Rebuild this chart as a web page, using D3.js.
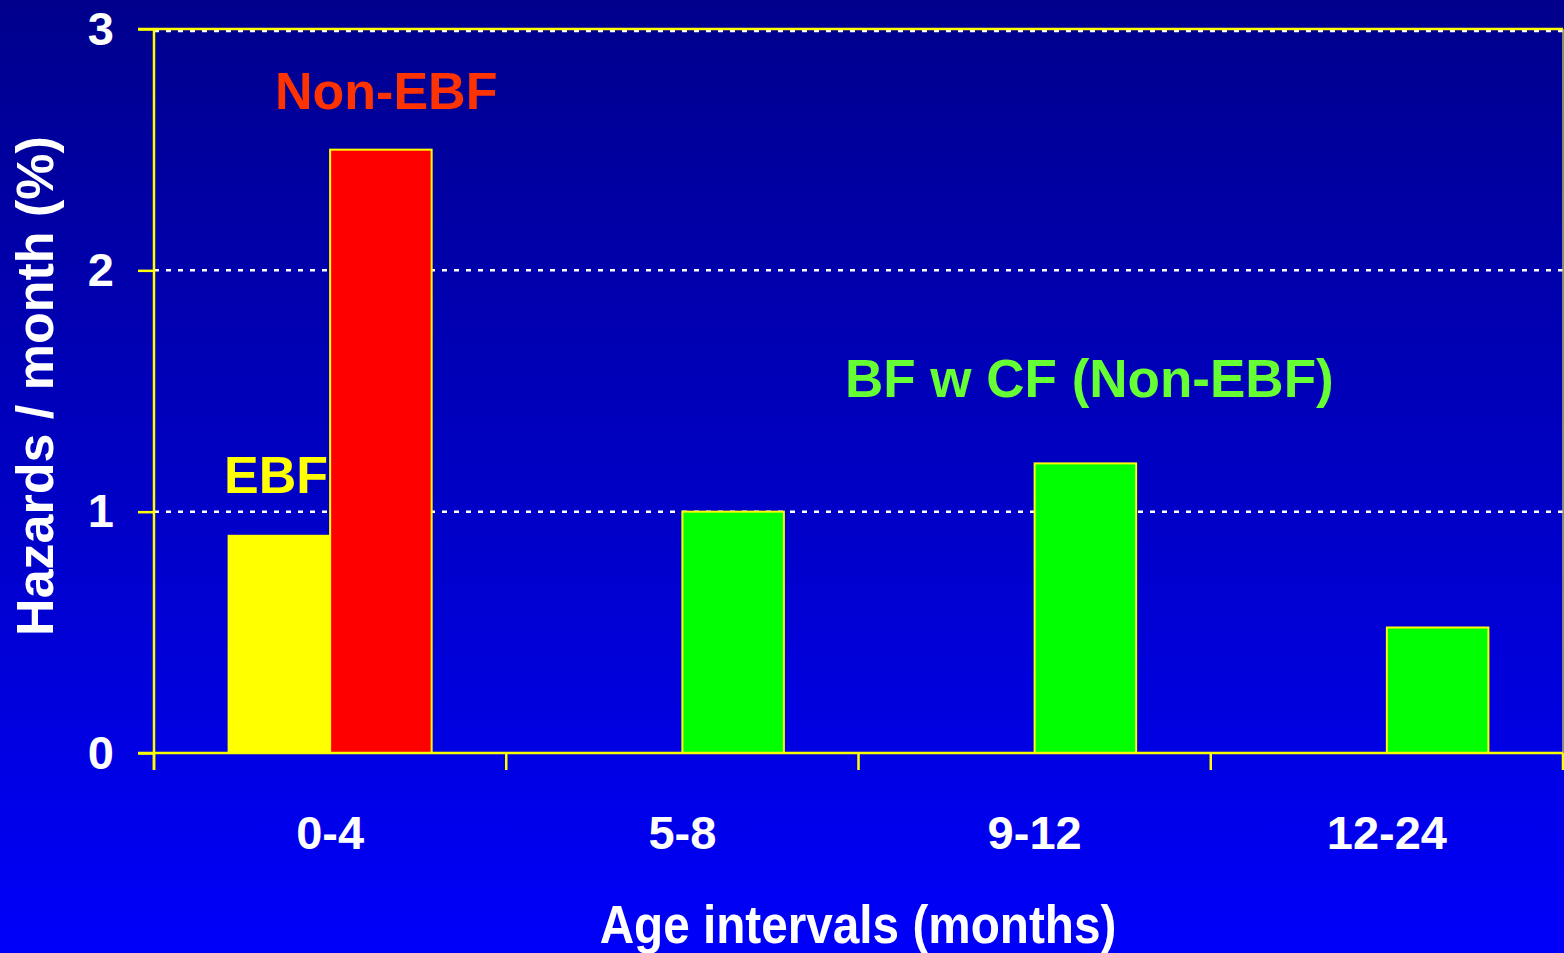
<!DOCTYPE html>
<html>
<head>
<meta charset="utf-8">
<script src="https://cdn.jsdelivr.net/npm/d3@7/dist/d3.min.js"></script>
<style>
  html, body { margin: 0; padding: 0; background: #0000f0; overflow: hidden; }
  svg { display: block; }
  text { font-family: "Liberation Sans", Arial, sans-serif; font-weight: bold; }
</style>
</head>
<body>
<svg id="chart" width="1564" height="953"></svg>
<script>
// Age intervals (months)
const categories = ["0-4", "5-8", "9-12", "12-24"];
// Hazards per month (%), exclusive breastfeeding
const ebfValues = [0.9, null, null, null];
// Hazards per month (%), non-exclusive breastfeeding
const nonEbfValues = [2.5, 1.0, 1.2, 0.52];
const seriesKeys = ["EBF", "Non-EBF"];
const yTicks = [0, 1, 2, 3];

const W = 1564, H = 953;
const margin = { left: 154, right: 1, top: 29, bottom: 200 };
const plotW = W - margin.left - margin.right;
const plotH = H - margin.top - margin.bottom;

const svg = d3.select("#chart");

// Background: dark navy at top fading to bright blue
const defs = svg.append("defs");
const grad = defs.append("linearGradient")
  .attr("id", "bg").attr("x1", 0).attr("y1", 0).attr("x2", 0).attr("y2", 1);
grad.append("stop").attr("offset", "0%").attr("stop-color", "#00008c");
grad.append("stop").attr("offset", "100%").attr("stop-color", "#0000fa");
svg.append("rect").attr("width", W).attr("height", H).attr("fill", "url(#bg)");

const g = svg.append("g").attr("transform", `translate(${margin.left},${margin.top})`);

const x = d3.scaleBand().domain(categories).range([0, plotW]).padding(0);
const xs = d3.scaleBand().domain(seriesKeys).range([0, x.bandwidth()])
  .paddingInner(0).paddingOuter(0.735);
const y = d3.scaleLinear().domain([0, 3]).range([plotH, 0]);

// Dotted gridlines
g.append("g").selectAll("line").data(yTicks.filter(d => d > 0)).join("line")
  .attr("x1", 0).attr("x2", plotW)
  .attr("y1", d => y(d) + (d === 3 ? 2 : 0)).attr("y2", d => y(d) + (d === 3 ? 2 : 0))
  .attr("stroke", "#ffffff").attr("stroke-width", 2.5)
  .attr("stroke-dasharray", "5,7");

// Frame: top and right edges
g.append("line").attr("x1", -16).attr("x2", plotW).attr("y1", 0).attr("y2", 0)
  .attr("stroke", "#ffff00").attr("stroke-width", 2.5);
g.append("line").attr("x1", plotW).attr("x2", plotW).attr("y1", 0).attr("y2", plotH + 17)
  .attr("stroke", "#b8b860").attr("stroke-width", 1.5);

// Bars
const bars = [];
categories.forEach((c, i) => {
  if (ebfValues[i] != null) bars.push({ cat: c, key: "EBF", v: ebfValues[i], fill: "#ffff00" });
  if (nonEbfValues[i] != null) bars.push({ cat: c, key: "Non-EBF", v: nonEbfValues[i], fill: i === 0 ? "#ff0000" : "#00ff00" });
});
g.append("g").selectAll("rect").data(bars).join("rect")
  .attr("x", d => x(d.cat) + xs(d.key))
  .attr("width", xs.bandwidth())
  .attr("y", d => y(d.v))
  .attr("height", d => y(0) - y(d.v))
  .attr("fill", d => d.fill)
  .attr("stroke", "#ffff00").attr("stroke-width", 2);

// Y axis
const yAxis = g.append("g")
  .call(d3.axisLeft(y).tickValues(yTicks).tickFormat(d3.format("d")).tickSize(16).tickPadding(24));
yAxis.select(".domain").remove();
yAxis.selectAll(".tick line").attr("stroke", "#ffff00").attr("stroke-width", 2.5);
yAxis.selectAll(".tick text").attr("fill", "#ffffff").attr("font-size", 47)
  .attr("font-family", "Liberation Sans, Arial, sans-serif").attr("font-weight", "bold");
g.append("line").attr("x1", 0).attr("x2", 0).attr("y1", 0).attr("y2", plotH + 17)
  .attr("stroke", "#ffff00").attr("stroke-width", 2.5);

// X axis: labels centred in bands, ticks at band boundaries
const xAxis = g.append("g").attr("transform", `translate(0,${plotH})`)
  .call(d3.axisBottom(x).tickSize(0).tickPadding(63));
xAxis.select(".domain").remove();
xAxis.selectAll(".tick text").attr("fill", "#ffffff").attr("font-size", 47)
  .attr("font-family", "Liberation Sans, Arial, sans-serif").attr("font-weight", "bold");
const bounds = categories.map(c => x(c)).concat([x.range()[1]]);
g.append("g").selectAll("line").data(bounds).join("line")
  .attr("x1", d => d).attr("x2", d => d).attr("y1", plotH).attr("y2", plotH + 17)
  .attr("stroke", "#ffff00").attr("stroke-width", 2.5);
g.append("line").attr("x1", -16).attr("x2", plotW).attr("y1", plotH).attr("y2", plotH)
  .attr("stroke", "#ffff00").attr("stroke-width", 2.5);

// Axis titles
svg.append("text")
  .attr("transform", `translate(858,943) scale(0.9,1)`)
  .attr("text-anchor", "middle").attr("fill", "#ffffff").attr("font-size", 53)
  .text("Age intervals (months)");
svg.append("text")
  .attr("transform", `translate(53,386) rotate(-90)`)
  .attr("text-anchor", "middle").attr("fill", "#ffffff").attr("font-size", 52)
  .text("Hazards / month (%)");

// Series annotations
svg.append("text").attr("x", 275).attr("y", 109).attr("fill", "#ff3300").attr("font-size", 52)
  .text("Non-EBF");
svg.append("text").attr("x", 224).attr("y", 493).attr("fill", "#ffff00").attr("font-size", 52)
  .text("EBF");
svg.append("text").attr("x", 845).attr("y", 397).attr("fill", "#66ff33").attr("font-size", 53)
  .text("BF w CF (Non-EBF)");
</script>
</body>
</html>
